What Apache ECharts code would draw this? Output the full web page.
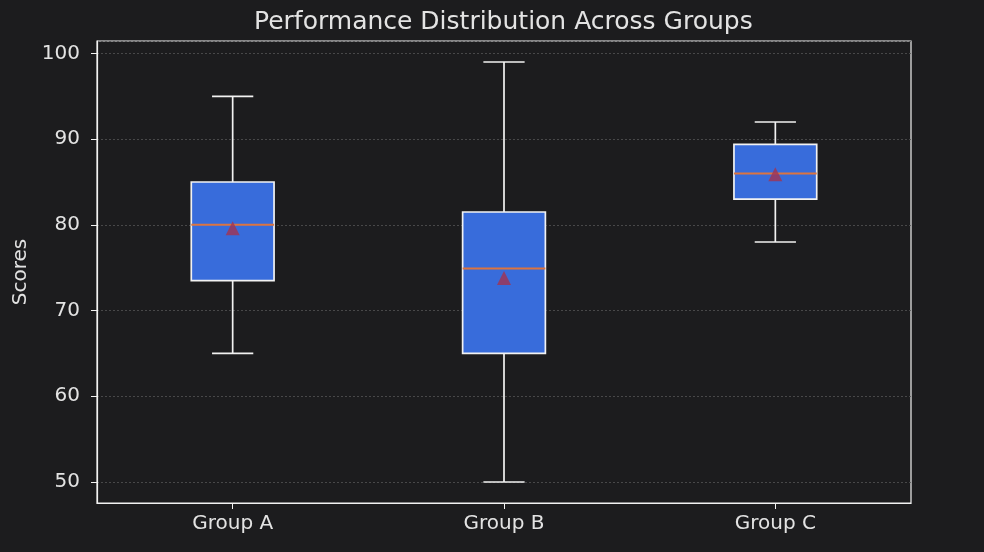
<!DOCTYPE html>
<html lang="en">
<head>
    <meta charset="UTF-8">
    <title>Performance Distribution Across Groups</title>
    <style>
        html, body { margin: 0; padding: 0; background: #1c1c1e; }
        #main { width: 984px; height: 552px; }
    </style>
    <script src="https://cdn.jsdelivr.net/npm/echarts@6/dist/echarts.min.js"></script>
</head>
<body>
<div id="main"></div>
<script type="text/javascript">
    // values
    var categories = ['Group A', 'Group B', 'Group C'];
    var lowWhisker = [65, 50, 78];
    var q1 = [73.5, 65, 83];
    var median = [80, 74.9, 86];
    var q3 = [85, 81.5, 89.4];
    var highWhisker = [95, 99, 92];
    var means = [79.6, 73.8, 85.9];

    var textColor = '#e3e3e3';
    var font = 'DejaVu Sans';

    var boxData = categories.map(function (c, i) {
        return [i, lowWhisker[i], q1[i], median[i], q3[i], highWhisker[i]];
    });
    var meanData = categories.map(function (c, i) {
        return [i, means[i]];
    });

    function renderBox(params, api) {
        var i = api.value(0);
        var band = api.size([1, 0])[0];
        var halfBox = band * 0.305 / 2;
        var halfCap = band * 0.152 / 2;
        var low = api.coord([i, api.value(1)]);
        var b1 = api.coord([i, api.value(2)]);
        var med = api.coord([i, api.value(3)]);
        var b3 = api.coord([i, api.value(4)]);
        var high = api.coord([i, api.value(5)]);
        var x = low[0];
        var white = { stroke: '#f2f2f2', lineWidth: 1.7 };
        return {
            type: 'group',
            children: [
                { type: 'line', shape: { x1: x, y1: b3[1], x2: x, y2: high[1] }, style: white },
                { type: 'line', shape: { x1: x, y1: low[1], x2: x, y2: b1[1] }, style: white },
                { type: 'line', shape: { x1: x - halfCap, y1: high[1], x2: x + halfCap, y2: high[1] }, style: white },
                { type: 'line', shape: { x1: x - halfCap, y1: low[1], x2: x + halfCap, y2: low[1] }, style: white },
                {
                    type: 'rect',
                    shape: { x: x - halfBox, y: b3[1], width: halfBox * 2, height: b1[1] - b3[1] },
                    style: { fill: '#386cdb', stroke: '#f2f2f2', lineWidth: 1.7 }
                },
                {
                    type: 'line',
                    shape: { x1: x - halfBox, y1: med[1], x2: x + halfBox, y2: med[1] },
                    style: { stroke: '#dc7440', lineWidth: 2 }
                }
            ]
        };
    }

    var myChart = echarts.init(document.getElementById('main'));
    var option = {
        backgroundColor: '#1c1c1e',
        animation: false,
        title: {
            text: 'Performance Distribution Across Groups',
            left: 249,
            top: 5,
            textStyle: { color: textColor, fontFamily: font, fontSize: 25, fontWeight: 'normal' }
        },
        grid: {
            left: 97, right: 73, top: 41, bottom: 49,
            show: true,
            borderColor: '#f2f2f2',
            borderWidth: 1.2,
            backgroundColor: 'transparent'
        },
        xAxis: {
            type: 'category',
            data: categories,
            boundaryGap: true,
            axisLine: { show: true, lineStyle: { color: '#f2f2f2', width: 1.2 } },
            axisTick: { show: true, alignWithLabel: true, length: 6, lineStyle: { color: '#f2f2f2' } },
            axisLabel: { color: textColor, fontFamily: font, fontSize: 20, margin: 11 },
            splitLine: { show: false }
        },
        yAxis: {
            type: 'value',
            min: 47.55,
            max: 101.45,
            name: 'Scores',
            nameLocation: 'middle',
            nameGap: 66,
            nameTextStyle: { color: textColor, fontFamily: font, fontSize: 20 },
            axisLine: { show: true, lineStyle: { color: '#f2f2f2', width: 1.2 } },
            axisTick: { show: true, length: 6, lineStyle: { color: '#f2f2f2' } },
            axisLabel: {
                color: textColor, fontFamily: font, fontSize: 20, margin: 17,
                showMinLabel: false, showMaxLabel: false,
                formatter: function (v) { return v % 10 === 0 ? String(v) : ''; }
            },
            splitLine: { show: true, lineStyle: { color: '#555555', type: [2, 2], width: 0.8 } }
        },
        series: [
            {
                type: 'custom',
                renderItem: renderBox,
                encode: { x: 0, y: [1, 2, 3, 4, 5] },
                data: boxData,
                z: 2
            },
            {
                type: 'scatter',
                symbol: 'triangle',
                symbolSize: 14,
                itemStyle: { color: '#a33350' },
                data: meanData,
                z: 3
            }
        ]
    };
    myChart.setOption(option);
</script>
</body>
</html>
